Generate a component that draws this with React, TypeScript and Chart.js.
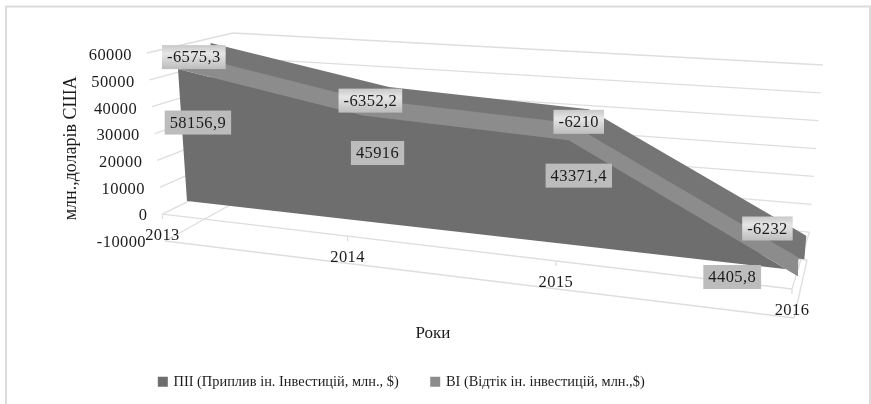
import React, { useEffect, useRef } from "react";
import { Chart, registerables } from "chart.js";

const years = ["2013", "2014", "2015", "2016"];
const inflow = [58156.9, 45916, 43371.4, 4405.8];
const outflow = [-6575.3, -6352.2, -6210, -6232];
const netFlow = [51581.6, 39563.8, 37161.4, -1826.2];
const valueTicks = { min: -10000, max: 60000, step: 10000 };

const serif = "'Liberation Serif', serif";
const DARK = "#6e6e6e";
const TOP = "#757575";
const LIGHT = "#8c8c8c";
const GRID = "#dedede";
const INK = "#1c1c1c";

type Pt = [number, number];
type Quad = { tl: Pt; tr: Pt; br: Pt; bl: Pt };

// Planes of the 3D look, as corners at 60000 (top) and -10000 (bottom)
const planes: Record<string, Quad> = {
  face: { tl: [176.5, 47.4], tr: [804, 93.5], br: [797, 300], bl: [188.75, 226.6] },
  back: { tl: [210.5, 38.4], tr: [819, 81], br: [803, 276], bl: [213.4, 210.6] },
  boxFront: { tl: [147, 53], tr: [780, 115], br: [794, 318], bl: [165, 241] },
  boxBack: { tl: [233, 33], tr: [823, 65], br: [807, 260], bl: [230, 205] },
};
const PERSPECTIVE = 0.2;
const labelNudgeOut: Pt[] = [[17, 5], [8, 2], [10, -1], [-31, -29]];
const labelNudgeIn: Pt[] = [[16, -4], [13, -7], [10, -8], [-66, 13]];

function project(chart: any, plane: Quad, px: number, py: number): Pt {
  const a = chart.chartArea;
  const s0 = (px - a.left) / (a.right - a.left);
  const s = s0 / (1 + PERSPECTIVE * (1 - s0));
  const t = (py - a.top) / (a.bottom - a.top);
  const top: Pt = [plane.tl[0] + (plane.tr[0] - plane.tl[0]) * s, plane.tl[1] + (plane.tr[1] - plane.tl[1]) * s];
  const bot: Pt = [plane.bl[0] + (plane.br[0] - plane.bl[0]) * s, plane.bl[1] + (plane.br[1] - plane.bl[1]) * s];
  return [top[0] + (bot[0] - top[0]) * t, top[1] + (bot[1] - top[1]) * t];
}

function polygon(ctx: CanvasRenderingContext2D, pts: Pt[], fill: string) {
  ctx.beginPath();
  pts.forEach((p, i) => (i ? ctx.lineTo(p[0], p[1]) : ctx.moveTo(p[0], p[1])));
  ctx.closePath();
  ctx.fillStyle = fill;
  ctx.fill();
}

function seg(ctx: CanvasRenderingContext2D, a: Pt, b: Pt) {
  ctx.beginPath();
  ctx.moveTo(a[0], a[1]);
  ctx.lineTo(b[0], b[1]);
  ctx.stroke();
}

const depthPlugin = {
  id: "depthPlanes",
  beforeDraw(chart: any) {
    const ctx: CanvasRenderingContext2D = chart.ctx;
    const { x, y } = chart.scales;
    const a = chart.chartArea;
    ctx.save();
    ctx.strokeStyle = "#dcdcdc";
    ctx.lineWidth = 2;
    ctx.beginPath();
    ctx.moveTo(6, 404);
    ctx.lineTo(6, 6.5);
    ctx.lineTo(870, 6.5);
    ctx.lineTo(870, 404);
    ctx.stroke();
    ctx.strokeStyle = GRID;
    ctx.lineWidth = 1.3;
    // wall grid lines, one per tick of the value scale
    y.ticks.forEach((t: any) => {
      const py = y.getPixelForValue(t.value);
      const f0 = project(chart, planes.boxFront, a.left, py);
      const b0 = project(chart, planes.boxBack, a.left, py);
      const b1 = project(chart, planes.boxBack, a.right, py);
      seg(ctx, f0, b0);
      seg(ctx, b0, b1);
    });
    // floor lines at 0 and -10000, with category ticks
    [0, -10000].forEach((v) => {
      const py = y.getPixelForValue(v);
      const f0 = project(chart, planes.boxFront, a.left, py);
      const f1 = project(chart, planes.boxFront, a.right, py);
      const b1 = project(chart, planes.boxBack, a.right, py);
      seg(ctx, f0, f1);
      seg(ctx, f1, b1);
    });
    const zero = y.getPixelForValue(0);
    years.forEach((_, i) => {
      const p = project(chart, planes.boxFront, x.getPixelForValue(i), zero);
      seg(ctx, p, [p[0], p[1] + 5]);
    });
    ctx.restore();
  },
  beforeDatasetDraw(chart: any, args: any) {
    const ctx: CanvasRenderingContext2D = chart.ctx;
    const { x, y } = chart.scales;
    const a = chart.chartArea;
    const layer = chart.data.datasets[args.index].layer;
    const xs = years.map((_, i) => x.getPixelForValue(i));
    if (layer === "back") {
      const top = inflow.map((v, i) => project(chart, planes.back, xs[i], y.getPixelForValue(v)));
      const base = y.getPixelForValue(-4000);
      polygon(ctx, [...top, project(chart, planes.back, a.right, base), project(chart, planes.back, a.left, base)], TOP);
    }
    if (layer === "face") {
      const top = netFlow.map((v, i) => project(chart, planes.face, xs[i], y.getPixelForValue(v)));
      const base = y.getPixelForValue(0);
      polygon(ctx, [...top, project(chart, planes.face, a.right, base), project(chart, planes.face, a.left, base)], DARK);
    }
    if (layer === "band") {
      const top = inflow.map((v, i) => project(chart, planes.face, xs[i], y.getPixelForValue(v)));
      const low = outflow.map((v, i) => project(chart, planes.face, xs[i], y.getPixelForValue(inflow[i] + v)));
      polygon(ctx, [...top, ...low.reverse()], LIGHT);
    }
    return false;
  },
  afterDatasetsDraw(chart: any) {
    const ctx: CanvasRenderingContext2D = chart.ctx;
    const { x, y } = chart.scales;
    const a = chart.chartArea;
    ctx.save();
    ctx.fillStyle = INK;
    ctx.font = `16.5px ${serif}`;
    (ctx as any).letterSpacing = "0.4px";
    ctx.textBaseline = "middle";
    // value-axis labels follow the slanted front edge
    ctx.textAlign = "right";
    y.ticks.forEach((t: any) => {
      const py = y.getPixelForValue(t.value);
      const edge = project(chart, planes.boxFront, a.left, py);
      ctx.fillText(String(t.value), edge[0] - 15 - (t.value < 0 ? 4 : 0), py + 1);
    });
    // category labels under the floor edge
    ctx.textAlign = "center";
    const zero = y.getPixelForValue(0);
    years.forEach((label, i) => {
      const p = project(chart, planes.boxFront, x.getPixelForValue(i), zero);
      ctx.fillText(label, p[0], p[1] + 22);
    });
    // data labels
    const box = (text: string, cx: number, cy: number, gradient: boolean) => {
      const w = ctx.measureText(text).width + 10;
      const h = 24;
      if (gradient) {
        const g = ctx.createLinearGradient(0, cy - h / 2, 0, cy + h / 2);
        g.addColorStop(0, "#c8c8c8");
        g.addColorStop(0.35, "#e6e6e6");
        g.addColorStop(1, "#bdbdbd");
        ctx.fillStyle = g;
      } else {
        ctx.fillStyle = "#bcbcbc";
      }
      ctx.fillRect(cx - w / 2, cy - h / 2, w, h);
      ctx.fillStyle = INK;
      ctx.fillText(text, cx, cy + 1);
    };
    const fmt = (v: number) => String(v).replace(".", ",");
    inflow.forEach((v, i) => {
      const p = project(chart, planes.face, x.getPixelForValue(i), y.getPixelForValue(v / 2));
      box(fmt(v), p[0] + labelNudgeIn[i][0], p[1] + labelNudgeIn[i][1], false);
    });
    outflow.forEach((v, i) => {
      const p = project(chart, planes.face, x.getPixelForValue(i), y.getPixelForValue(inflow[i]));
      box(fmt(v), p[0] + labelNudgeOut[i][0], p[1] + labelNudgeOut[i][1], true);
    });
    ctx.restore();
  },
};

Chart.register(depthPlugin, ...registerables);

export default function App() {
  const ref = useRef<HTMLCanvasElement>(null);
  useEffect(() => {
    document.body.style.margin = "0";
    const chart = new Chart(ref.current!, {
      type: "line",
      data: {
        labels: years,
        datasets: [
          { label: "ПІІ (Приплив ін. Інвестицій, млн., $)", data: inflow, layer: "back", order: 3, backgroundColor: DARK, borderColor: DARK, pointRadius: 0 },
          { label: "ВІ (Відтік ін. інвестицій, млн.,$)", data: outflow, layer: "band", order: 1, backgroundColor: LIGHT, borderColor: LIGHT, pointRadius: 0 },
          { label: "net", data: netFlow, layer: "face", order: 2, backgroundColor: DARK, borderColor: DARK, pointRadius: 0 },
        ] as any,
      },
      options: {
        animation: false,
        responsive: false,
        layout: { padding: { left: 60, right: 127, top: 55, bottom: 5 } },
        plugins: {
          tooltip: { enabled: false },
          legend: {
            position: "bottom",
            labels: {
              boxWidth: 7,
              boxHeight: 7,
              padding: 33,
              color: INK,
              font: { family: serif, size: 14.4 },
              filter: (item: any) => item.datasetIndex < 2,
              sort: (p: any, q: any) => p.datasetIndex - q.datasetIndex,
            },
          },
        },
        scales: {
          x: {
            offset: false,
            grid: { display: false },
            border: { display: false },
            ticks: { display: false },
            afterFit: (s: any) => { s.height = 100; },
            title: { display: true, text: "Роки", color: INK, font: { family: serif, size: 17 }, padding: { top: 0, bottom: -2 } },
          },
          y: {
            min: valueTicks.min,
            max: valueTicks.max,
            grid: { display: false },
            border: { display: false },
            ticks: { display: false, stepSize: valueTicks.step },
            afterFit: (s: any) => { s.width = 62; },
            title: { display: true, text: "млн.,доларів США", color: INK, font: { family: serif, size: 18 }, padding: 0 },
          },
        },
      },
    });
    return () => chart.destroy();
  }, []);
  return (
    <div style={{ position: "absolute", left: 0, top: 0, width: 871, height: 404 }}>
      <canvas ref={ref} width={871} height={404} style={{ display: "block" }} />
    </div>
  );
}
